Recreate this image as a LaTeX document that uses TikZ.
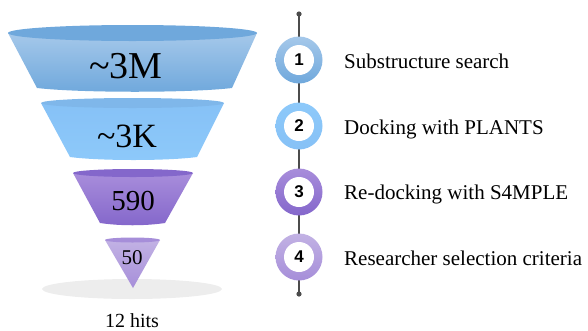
\documentclass[tikz,border=0pt]{standalone}
\usepackage{fontspec}
\setmainfont{Liberation Serif}
\newfontfamily\numfont{Liberation Sans}
\usepackage{xcolor}
\usetikzlibrary{positioning, calc}

\definecolor{blueA}{HTML}{6FA8DC}
\definecolor{blueAl}{HTML}{A5C8EA}
\definecolor{blueB}{HTML}{86C1F6}
\definecolor{blueBl}{HTML}{8DC9FA}
\definecolor{purpC}{HTML}{8467CB}
\definecolor{purpCl}{HTML}{A88DDB}
\definecolor{purpD}{HTML}{A68ED9}
\definecolor{purpDl}{HTML}{C2B2E4}

\tikzset{
  count/.style={font=\fontsize{#1}{#1}\selectfont, anchor=base, inner sep=0pt},
  steplabel/.style={font=\fontsize{21}{21}\selectfont, anchor=base west, inner sep=0pt},
  stepnum/.style={circle, fill=white, minimum size=30pt, inner sep=0pt,
    font=\numfont\bfseries\fontsize{17}{17}\selectfont},
}

\begin{document}
\begin{tikzpicture}[x=1pt, y=-1pt]
  \useasboundingbox (0,0) rectangle (588,330);

  % funnel
  \fill[gray!14] (132,289) ellipse (90 and 10);
  \shade[top color=blueAl, bottom color=blueA]
    (8,33) -- (37,88) .. controls (80,93) and (190,93) .. (232,88) -- (257,33) -- cycle;
  \fill[blueA] (132.5,33) ellipse (124.5 and 8);
  \shade[top color=blueB, bottom color=blueBl]
    (41,103) -- (70,157) .. controls (100,161) and (167,161) .. (197,157) -- (224,103) -- cycle;
  \fill[blueB!95!black] (132.5,103) ellipse (91.5 and 5);
  \shade[top color=purpCl, bottom color=purpC]
    (73,173) -- (100,223) .. controls (120,226) and (145,226) .. (165,223) -- (193,173) -- cycle;
  \fill[purpC] (133,173) ellipse (60 and 4);
  \shade[top color=purpDl, bottom color=purpD]
    (105,240) -- (133,288) -- (160,240) -- cycle;
  \fill[purpD] (132.5,240) ellipse (27.5 and 2.5);

  \node[count=38] (nM) at (126,78) {\textasciitilde3M};
  \node[count=34] (nK) at (127,147) {\textasciitilde3K};
  \node[count=29] (n590) at (133,210) {590};
  \node[count=21] (n50) at (132,264) {50};
  \node[count=20] (hits) at (132,327) {12 hits};

  % timeline
  \coordinate (ttop) at (299,14);
  \coordinate (tbot) at (299,294);
  \draw[gray!60!black, line width=1.6pt] (ttop) -- (tbot);
  \fill[gray!60!black] (ttop) circle (2.6) (tbot) circle (2.6);

  \shade[top color=blueAl, bottom color=blueA] (299,60) circle (23.5);
  \shade[top color=blueBl, bottom color=blueB] (299,126) circle (23.5);
  \shade[top color=purpCl, bottom color=purpC] (299,192) circle (23.5);
  \shade[top color=purpDl, bottom color=purpD] (299,257) circle (23.5);

  \node[stepnum] (step1) at (299,60) {1};
  \node[stepnum] (step2) at (299,126) {2};
  \node[stepnum] (step3) at (299,192) {3};
  \node[stepnum] (step4) at (299,257) {4};

  \node[steplabel] (lbl1) at (344,68) {Substructure search};
  \node[steplabel] (lbl2) at (344,134) {Docking with PLANTS};
  \node[steplabel] (lbl3) at (344,199.5) {Re-docking with S4MPLE};
  \node[steplabel] (lbl4) at (344,265) {Researcher selection criteria};
\end{tikzpicture}
\end{document}
